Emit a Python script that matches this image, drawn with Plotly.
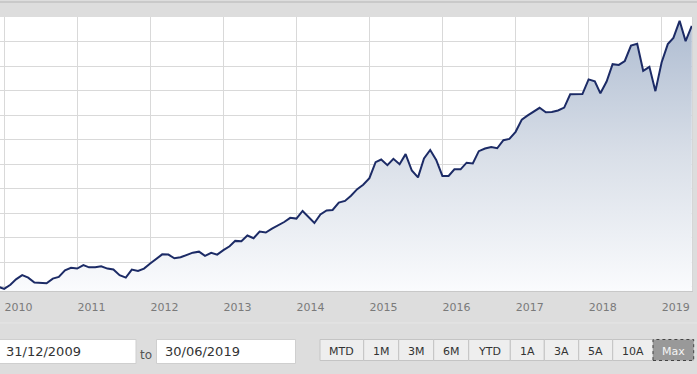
import pandas as pd
import plotly.graph_objects as go

# ---- data (monthly index values, end of month) ----
start_month = "2009-11-30"
values = [
    100.1, 99.2, 100.9, 103.1, 104.8, 103.8, 101.8, 101.6, 101.5, 103.4,
    104.1, 106.8, 107.8, 107.5, 108.9, 108.0, 108.0, 108.4, 107.5, 107.1,
    104.8, 103.8, 107.1, 106.5, 107.5, 109.6, 111.6, 113.3, 113.2, 111.7,
    112.1, 113.2, 114.0, 114.4, 112.7, 113.9, 113.2, 115.0, 116.6, 118.8,
    118.7, 121.0, 119.9, 122.6, 122.2, 123.8, 125.1, 126.5, 128.2, 127.9,
    131.0, 128.6, 126.1, 129.6, 131.2, 131.4, 134.4, 135.1, 137.2, 139.9,
    141.7, 144.4, 150.9, 152.0, 149.7, 152.3, 150.1, 154.2, 147.5, 144.7,
    152.4, 155.9, 151.8, 145.3, 145.3, 148.0, 148.0, 150.7, 150.4, 155.4,
    156.5, 157.1, 156.6, 159.9, 160.4, 163.3, 168.3, 169.9, 171.4, 173.1,
    171.3, 171.4, 172.0, 173.2, 178.6, 178.5, 178.7, 184.7, 183.9, 179.0,
    183.8, 190.9, 190.6, 192.2, 198.5, 199.2, 188.2, 189.8, 179.9, 191.6,
    199.1, 201.6, 208.6, 200.3, 206.5,
]
dates = pd.date_range(start_month, periods=len(values), freq=pd.offsets.MonthEnd())

from_date = "31/12/2009"
to_date = "30/06/2019"
to_label = "to"
button_labels = ["MTD", "1M", "3M", "6M", "YTD", "1A", "3A", "5A", "10A", "Max"]

# ---- layout constants ----
W, H = 697, 374
ML, MR, MT, MB = 0, 5, 17, 83
PW, PH = W - ML - MR, H - MT - MB
BG = "#dddddd"


def px(x):
    return (x - ML) / PW


def py(y):
    return (H - MB - y) / PH


fig = go.Figure()
fig.add_trace(go.Scatter(
    x=dates, y=values, mode="lines",
    line=dict(color="#1c2b66", width=2),
    fill="tozeroy",
    fillgradient=dict(type="vertical", start=98.35, stop=209,
                      colorscale=[[0, "#fafbfd"], [0.5, "#d9dfe8"], [1, "#aebcd1"]]),
    hoverinfo="skip", showlegend=False,
))

shapes = []
annotations = []

# top band line
shapes.append(dict(type="line", xref="paper", yref="paper", x0=px(0), x1=px(W),
                   y0=py(2), y1=py(2), line=dict(color="#c2c2c2", width=1.5)))
# separator line below tick labels
shapes.append(dict(type="line", xref="paper", yref="paper", x0=px(0), x1=px(W),
                   y0=py(323), y1=py(323), line=dict(color="#e6e6e6", width=1)))

# date boxes
for (x0, x1, txt) in [(-2, 136, from_date), (156.5, 295.5, to_date)]:
    shapes.append(dict(type="rect", xref="paper", yref="paper",
                       x0=px(x0), x1=px(x1), y0=py(363.5), y1=py(339.5),
                       fillcolor="white", line=dict(color="#cfcfcf", width=1)))
    annotations.append(dict(xref="paper", yref="paper", x=px(x0 + 6 if x0 > 0 else 4), y=py(351.5),
                            text=txt, showarrow=False, xanchor="left", yanchor="middle",
                            font=dict(family="DejaVu Sans", size=13, color="#333333")))
annotations.append(dict(xref="paper", yref="paper", x=px(146), y=py(355),
                        text=to_label, showarrow=False, xanchor="center", yanchor="middle",
                        font=dict(family="DejaVu Sans", size=12, color="#555555")))

# range buttons
edges = [320, 363.7, 398.7, 433.7, 468.7, 510.3, 544.3, 578.7, 612.7, 653, 693.7]
for i, lab in enumerate(button_labels):
    active = lab == "Max"
    shapes.append(dict(type="rect", xref="paper", yref="paper",
                       x0=px(edges[i]), x1=px(edges[i + 1]), y0=py(360.5), y1=py(339.5),
                       fillcolor="#999999" if active else "#eeeeee",
                       line=dict(color="#444444" if active else "#c4c4c4", width=1,
                                 dash="dot" if active else "solid")))
    annotations.append(dict(xref="paper", yref="paper", x=px((edges[i] + edges[i + 1]) / 2),
                            y=py(351), text=lab, showarrow=False, xanchor="center",
                            yanchor="middle",
                            font=dict(family="DejaVu Sans", size=11,
                                      color="#f4f4f4" if active else "#333333")))

fig.update_layout(
    width=W, height=H,
    margin=dict(l=ML, r=MR, t=MT, b=MB, pad=0),
    paper_bgcolor=BG, plot_bgcolor="white",
    shapes=shapes, annotations=annotations,
    xaxis=dict(
        type="date", range=["2009-12-10", "2019-06-01"],
        tick0="2010-01-01", dtick="M12", tickformat="%Y",
        showgrid=True, gridcolor="#d9d9d9", gridwidth=1,
        ticks="", ticklabelshift=14, ticklabelstandoff=6,
        tickfont=dict(family="DejaVu Sans", size=11, color="#7a7a7a"),
        showline=True, linecolor="#c8c8c8", linewidth=1, mirror=False,
        zeroline=False, fixedrange=True,
    ),
    yaxis=dict(
        range=[98.35, 210.15], tick0=100, dtick=10,
        showgrid=True, gridcolor="#d9d9d9", gridwidth=1,
        showticklabels=False, ticks="", zeroline=False,
        showline=True, linecolor="#d6d6d6", mirror=True, fixedrange=True,
    ),
)

fig.write_html(
    "out.html",
    config={"displayModeBar": False},
    post_script="document.body.style.margin='0';document.body.style.padding='0';"
                "document.body.style.overflow='hidden';",
)
